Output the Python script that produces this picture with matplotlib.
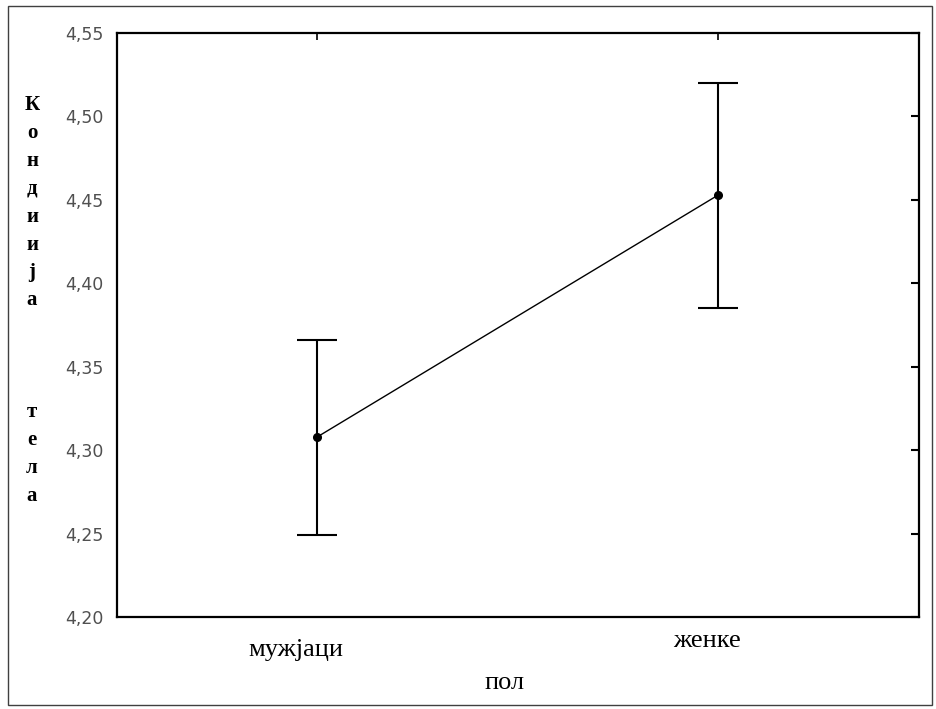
import matplotlib
matplotlib.use("Agg")
import matplotlib.pyplot as plt
from matplotlib.patches import Rectangle

# data
groups = ["мужјаци", "женке"]
means = [4.308, 4.453]
upper = [4.366, 4.520]
lower = [4.249, 4.385]
yticks = [4.20, 4.25, 4.30, 4.35, 4.40, 4.45, 4.50, 4.55]
ylabel_letters = ["К", "о", "н", "д", "и", "и", "ј", "а", "", "", "", "т", "е", "л", "а"]

W, H = 937, 709
fig = plt.figure(figsize=(W / 100, H / 100), dpi=100, facecolor="white")

# outer frame
fig.patches.append(Rectangle((8 / W, 1 - 705 / H), 924 / W, 699 / H, transform=fig.transFigure,
                             fill=False, edgecolor="#404040", linewidth=1.0))

ax = fig.add_axes([117 / W, 1 - 617 / H, 802 / W, 584 / H])
x = list(range(len(groups)))
err_lo = [m - l for m, l in zip(means, lower)]
err_hi = [u - m for m, u in zip(means, upper)]

ax.plot(x, means, color="black", lw=1.0, zorder=2)
ax.errorbar(x, means, yerr=[err_lo, err_hi], fmt="o", color="black", ms=5.5,
            ecolor="black", elinewidth=1.5, capsize=14.4, capthick=1.5, zorder=3)

ax.set_xlim(-0.5, 1.5)
ax.set_ylim(4.20, 4.55)
ax.set_yticks(yticks)
ax.set_yticklabels([f"{v:.2f}".replace(".", ",") for v in yticks],
                   fontsize=12.5, color="#505050", family="DejaVu Sans")
ax.tick_params(axis="y", left=False, right=True, direction="in", length=6, width=1.5, pad=10)
ax.set_xticks(x)
ax.set_xticklabels([])
ax.tick_params(axis="x", bottom=False, top=True, direction="in", length=5, width=1.2)
for s in ax.spines.values():
    s.set_linewidth(1.6)
    s.set_color("black")


def px(xp, yp):
    return xp / W, 1 - yp / H


serif = "Liberation Serif"
fig.text(*px(296, 650), groups[0], ha="center", va="center", fontsize=19, family=serif)
fig.text(*px(707, 641), groups[1], ha="center", va="center", fontsize=19, family=serif)
fig.text(*px(505, 683), "пол", ha="center", va="center", fontsize=19, family=serif)

# vertical stacked y label
y0, step = 105, 27.9
for i, ch in enumerate(ylabel_letters):
    if ch:
        fig.text(*px(32, y0 + i * step), ch, ha="center", va="center", fontsize=15,
                 family=serif, fontweight="bold")

fig.savefig("out.png", dpi=100, facecolor="white")
